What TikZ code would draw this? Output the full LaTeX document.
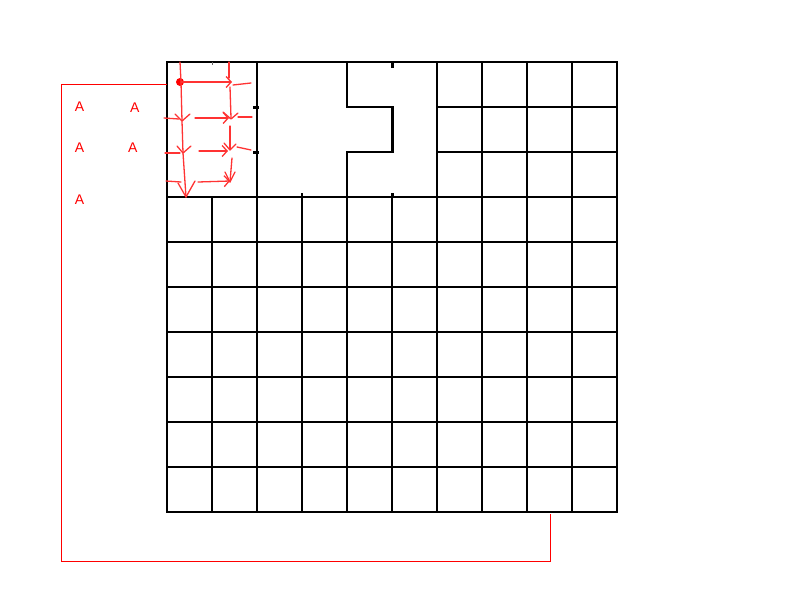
\documentclass[tikz,border=0pt]{standalone}
\usepackage{fontspec}
\setmainfont{Liberation Sans}
\usetikzlibrary{arrows.meta}
\begin{document}
\begin{tikzpicture}[x=1pt,y=-1pt,
  gridline/.style={line width=2pt,black,line cap=rect},
  stub/.style={line width=3pt,black},
  frameline/.style={red,line width=0.9pt},
  hand/.style={red!80,line width=1.3pt,line cap=round,line join=round},
  handarrow/.style={hand,-{Straight Barb[length=5pt,width=11pt,line width=1.3pt]}},
  lbl/.style={text=red,font=\fontsize{14}{14}\selectfont,inner sep=0pt}]
\useasboundingbox (0,0) rectangle (800,600);
% ---- grid ----
\draw[gridline] (167,62) -- (617,62);
\foreach \y in {197,242,287,332,377,422,467,512}
  \draw[gridline] (167,\y) -- (617,\y);
\foreach \y in {107,152} {
  \draw[gridline] (347,\y) -- (392,\y);
  \draw[gridline] (437,\y) -- (617,\y);
  \draw[stub] (253,\y) -- (259,\y);
}
\foreach \x in {167,257,437,482,527,572,617}
  \draw[gridline] (\x,62) -- (\x,512);
\draw[gridline] (212,197) -- (212,512);
\draw[line width=1pt,black!60] (212,62) -- (212,65);
\draw[gridline] (302,194) -- (302,512);
\draw[gridline] (347,62) -- (347,107);
\draw[gridline] (347,152) -- (347,512);
\draw[stub] (392,62) -- (392,68);
\draw[stub] (392,106) -- (392,153);
\draw[stub] (392,193) -- (392,198);
\draw[gridline] (392,197) -- (392,512);
% ---- red frame ----
\coordinate (f1) at (167,84);
\coordinate (f2) at (61,84);
\coordinate (f3) at (61,561);
\coordinate (f4) at (550,561);
\coordinate (f5) at (550,514);
\draw[frameline] (f1) -- (f2) -- (f3) -- (f4) -- (f5);
% ---- labels ----
\node[lbl] (a1) at (79.5,107) {A};
\node[lbl] (a2) at (134.7,107.5) {A};
\node[lbl] (a3) at (79.5,148) {A};
\node[lbl] (a4) at (132.7,148) {A};
\node[lbl] (a5) at (79.5,199.5) {A};
% ---- hand drawn arrows ----
\fill[red] (180,82) circle (4);
% vertical 1
\draw[hand] (180,62) -- (181,82) -- (182,121) -- (183,153) -- (186,197);
\draw[hand] (175,114) -- (182,121) -- (190,114);
\draw[hand] (177,146) -- (183,153) -- (191,146);
\draw[hand] (178,183) -- (186,197) -- (195,181);
% vertical 2
\draw[hand] (229,62) -- (229,78);
\draw[hand] (230,87) -- (231,118);
\draw[hand] (223,112) -- (231,119) -- (238,113);
\draw[hand] (230,126) -- (230,149);
\draw[hand] (224,143) -- (230,150) -- (236,144);
\draw[hand] (232,158) -- (230,182);
\draw[hand] (225,172) -- (230,182) -- (235,172);
% horizontals
\draw[handarrow] (181,82) -- (232,82);
\draw[hand] (233,85) -- (251,83);
\draw[hand] (164,118) -- (179,119);
\draw[handarrow] (195,118) -- (229,118);
\draw[hand] (238,117) -- (252,117);
\draw[hand] (165,153) -- (180,153);
\draw[handarrow] (199,151) -- (228,151);
\draw[hand] (237,147) -- (251,150);
\draw[hand] (166,181) -- (181,182);
\draw[handarrow] (198,182) -- (230,181);
\end{tikzpicture}
\end{document}
